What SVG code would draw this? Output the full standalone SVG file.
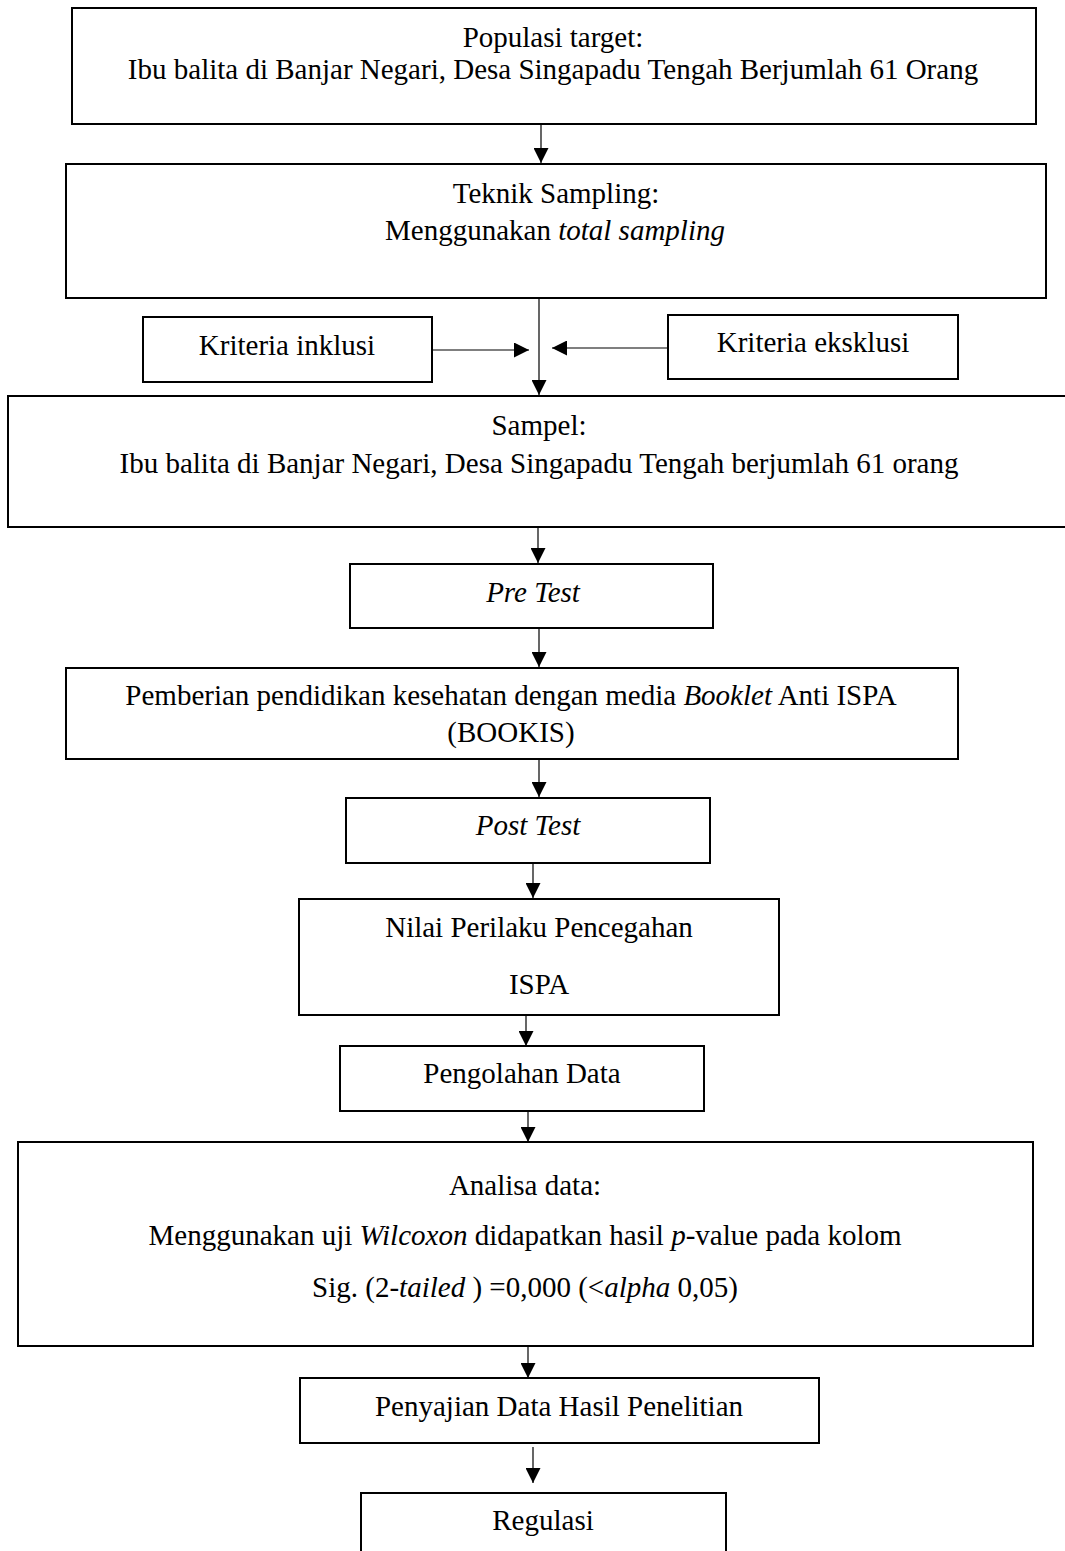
<svg xmlns="http://www.w3.org/2000/svg" width="1065" height="1551" viewBox="0 0 1065 1551">
<style>
.box{fill:#fff;stroke:#000;stroke-width:2}
.t{font-family:"Liberation Serif","Times New Roman",serif;font-size:29px;fill:#000;text-anchor:middle}
.i{font-style:italic}
.c{stroke:#000;stroke-width:1.2;fill:none;marker-end:url(#ah)}
</style>
<defs>
<marker id="ah" viewBox="0 0 15 15" refX="15" refY="7.5" markerWidth="15" markerHeight="15" orient="auto" markerUnits="userSpaceOnUse">
<path d="M0,0 L15,7.5 L0,15 z" fill="#000"/>
</marker>
</defs>
<rect width="1065" height="1551" fill="#fff"/>
<g id="connectors">
<line class="c" x1="541" y1="124" x2="541" y2="163"/>
<line class="c" x1="539" y1="298" x2="539" y2="395"/>
<line class="c" x1="432" y1="350" x2="529" y2="350"/>
<line class="c" x1="668" y1="348" x2="552" y2="348"/>
<line class="c" x1="538" y1="527" x2="538" y2="563"/>
<line class="c" x1="539" y1="628" x2="539" y2="667"/>
<line class="c" x1="539" y1="759" x2="539" y2="797"/>
<line class="c" x1="533" y1="863" x2="533" y2="898"/>
<line class="c" x1="526" y1="1015" x2="526" y2="1046"/>
<line class="c" x1="528" y1="1106" x2="528" y2="1142"/>
<line class="c" x1="528" y1="1343" x2="528" y2="1378"/>
<line class="c" x1="533" y1="1447" x2="533" y2="1483"/>
</g>
<g id="populasi">
<rect class="box" x="72" y="8" width="964" height="116"/>
<text class="t" x="553" y="47">Populasi target:</text>
<text class="t" x="553" y="79">Ibu balita di Banjar Negari, Desa Singapadu Tengah Berjumlah 61 Orang</text>
</g>
<g id="teknik">
<rect class="box" x="66" y="164" width="980" height="134"/>
<text class="t" x="556" y="203">Teknik Sampling:</text>
<text class="t" x="555" y="240">Menggunakan <tspan class="i">total sampling</tspan></text>
</g>
<g id="inklusi">
<rect class="box" x="143" y="317" width="289" height="65"/>
<text class="t" x="287" y="355">Kriteria inklusi</text>
</g>
<g id="eksklusi">
<rect class="box" x="668" y="315" width="290" height="64"/>
<text class="t" x="813" y="352">Kriteria eksklusi</text>
</g>
<g id="sampel">
<rect class="box" x="8" y="396" width="1062" height="131"/>
<text class="t" x="539" y="435">Sampel:</text>
<text class="t" x="539" y="473">Ibu balita di Banjar Negari, Desa Singapadu Tengah berjumlah 61 orang</text>
</g>
<g id="pretest">
<rect class="box" x="350" y="564" width="363" height="64"/>
<text class="t i" x="533" y="602">Pre Test</text>
</g>
<g id="pemberian">
<rect class="box" x="66" y="668" width="892" height="91"/>
<text class="t" x="511" y="705">Pemberian pendidikan kesehatan dengan media <tspan class="i">Booklet</tspan> Anti ISPA</text>
<text class="t" x="511" y="742">(BOOKIS)</text>
</g>
<g id="posttest">
<rect class="box" x="346" y="798" width="364" height="65"/>
<text class="t i" x="528" y="835">Post Test</text>
</g>
<g id="nilai">
<rect class="box" x="299" y="899" width="480" height="116"/>
<text class="t" x="539" y="937">Nilai Perilaku Pencegahan</text>
<text class="t" x="539" y="994">ISPA</text>
</g>
<g id="pengolahan">
<rect class="box" x="340" y="1046" width="364" height="65"/>
<text class="t" x="522" y="1083">Pengolahan Data</text>
</g>
<g id="analisa">
<rect class="box" x="18" y="1142" width="1015" height="204"/>
<text class="t" x="525" y="1195">Analisa data:</text>
<text class="t" x="525" y="1245">Menggunakan uji <tspan class="i">Wilcoxon</tspan> didapatkan hasil <tspan class="i">p</tspan>-value pada kolom</text>
<text class="t" x="525" y="1297">Sig. (2-<tspan class="i">tailed</tspan> ) =0,000 (&lt;<tspan class="i">alpha</tspan> 0,05)</text>
</g>
<g id="penyajian">
<rect class="box" x="300" y="1378" width="519" height="65"/>
<text class="t" x="559" y="1416">Penyajian Data Hasil Penelitian</text>
</g>
<g id="regulasi">
<rect class="box" x="361" y="1493" width="365" height="70"/>
<text class="t" x="543" y="1530">Regulasi</text>
</g>
</svg>
